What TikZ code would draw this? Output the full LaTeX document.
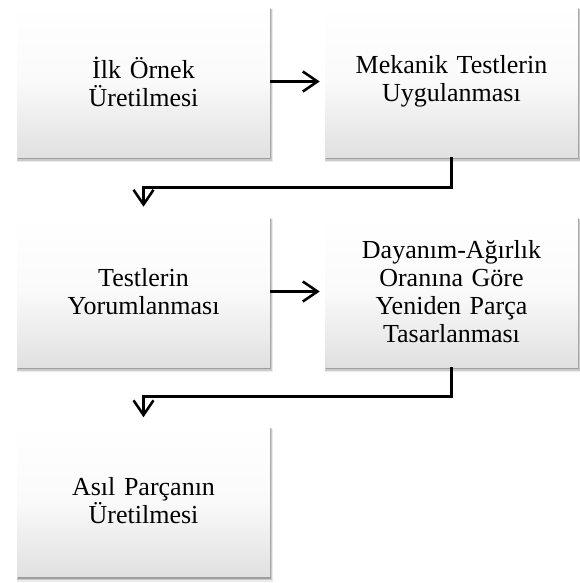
\documentclass[tikz,border=0pt]{standalone}
\usepackage{fontspec}
\setmainfont{Liberation Serif}
\usetikzlibrary{arrows.meta,shadows}
\begin{document}
\begin{tikzpicture}[x=0.75pt,y=-0.75pt,
  box/.style={rectangle, minimum width=189.75pt, minimum height=113.25pt, inner sep=0pt,
    top color=white, bottom color=black!12, middle color=white!98!black, draw=none, align=center,
    text width=185pt, font=\fontsize{19.5}{21}\selectfont,
    general shadow={fill=black, opacity=0.08, shadow xshift=0.8pt, shadow yshift=-3.2pt, shadow scale=1.012},
    general shadow={fill=black, opacity=0.14, shadow xshift=0.6pt, shadow yshift=-2.4pt, shadow scale=1.006},
    general shadow={fill=black, opacity=0.22, shadow xshift=0.4pt, shadow yshift=-1.5pt}},
  conn/.style={line width=1.9pt, -{Straight Barb[length=11pt,width=15pt]}}]
\useasboundingbox (0,0) rectangle (580,583);
\node[box] (b1) at (143.5,81.5) {İlk Örnek\\Üretilmesi};
\node[box] (b2) at (451.5,81.5) {Mekanik Testlerin\\Uygulanması};
\node[box] (b3) at (143.5,291.5) {Testlerin\\Yorumlanması};
\node[box] (b4) at (451.5,291.5) {Dayanım-Ağırlık\\Oranına Göre\\Yeniden Parça\\Tasarlanması};
\node[box] (b5) at (143.5,501) {Asıl Parçanın\\Üretilmesi};
\draw[conn, shorten >=3.75pt] (b1) -- (b2);
\draw[conn, shorten >=3.75pt] (b3) -- (b4);
\draw[conn, shorten >=6.75pt] (b2.south) -- ++(0,30) -| (b3.north);
\draw[conn, shorten >=6pt] (b4.south) -- ++(0,29) -| (b5.north);
\end{tikzpicture}
\end{document}
